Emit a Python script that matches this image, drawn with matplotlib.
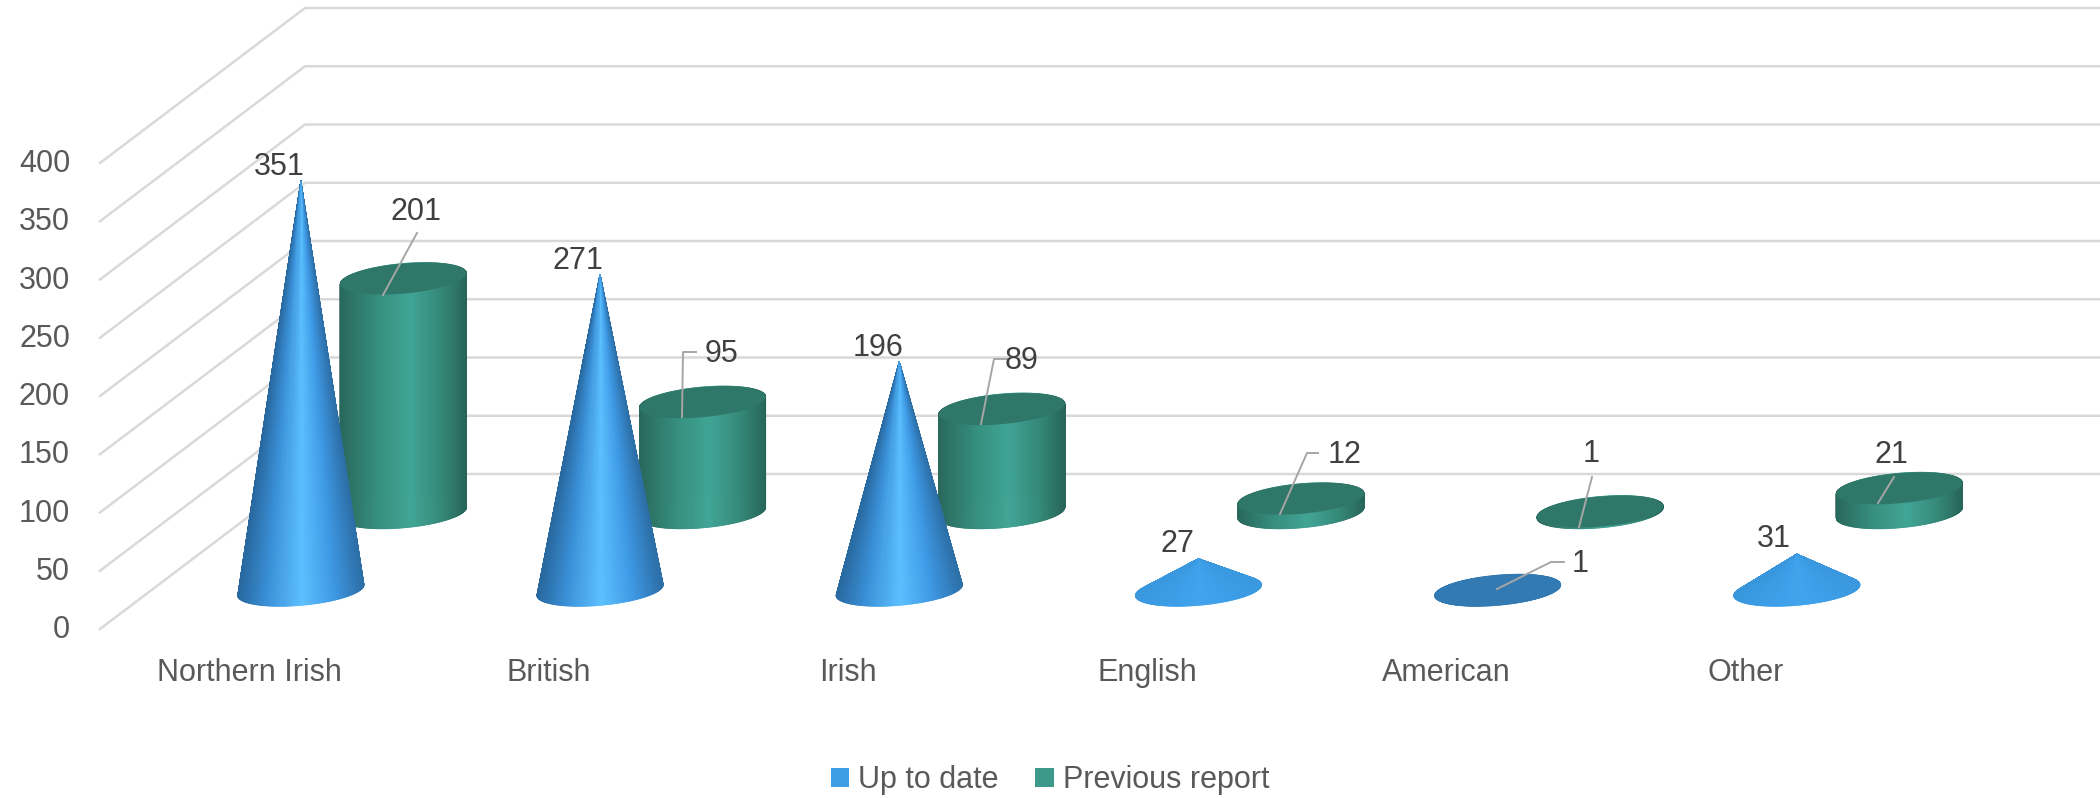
import numpy as np
import matplotlib
matplotlib.use("Agg")
import matplotlib.pyplot as plt
from matplotlib.collections import PolyCollection
from matplotlib.colors import LinearSegmentedColormap, to_rgb
from matplotlib.patches import Patch, Polygon
from matplotlib.transforms import Affine2D

plt.rcParams["font.family"] = ["Liberation Sans", "DejaVu Sans"]

# data
categories = ["Northern Irish", "British", "Irish", "English", "American", "Other"]
up_to_date = [351, 271, 196, 27, 1, 31]
previous_report = [201, 95, 89, 12, 1, 21]
y_ticks = [0, 50, 100, 150, 200, 250, 300, 350, 400]

# layout, in reference pixels
W, H = 2100, 798
FRONT_X, FRONT_Y = 100, 629
DEPTH_X, DEPTH_Y = 205, 155
CAT_W = 299.2
PX_PER_UNIT = 1.165
DEPTH_CONE = 0.25
DEPTH_CYL = 0.75
RADIUS_CAT = 59.4 / CAT_W
RADIUS_DEPTH = 16 / DEPTH_Y
FONT = 22

# label and leader positions, in reference pixels
cone_labels = [(279, 167), (578, 261), (878, 348), (1177, 544), (1580, 564), (1774, 539)]
cyl_labels = [(416, 212), (722, 354), (1022, 361), (1345, 455), (1591, 454), (1891, 455)]
cone_leaders = [None, None, None, None, [(1497, 589), (1551, 562), (1564, 562)], None]
cyl_leaders = [
    [(383, 295), (417, 233)],
    [(682, 417), (683, 352), (696, 352)],
    [(981, 424), (994, 359), (1007, 359)],
    [(1280, 514), (1307, 453), (1318, 453)],
    [(1579, 527), (1592, 477)],
    [(1878, 503), (1894, 477)],
]

BLUE_SIDE = LinearSegmentedColormap.from_list(
    "blue", [(0, "#28689f"), (0.22, "#3a8fd6"), (0.5, "#5cc0ff"), (0.75, "#3f9ae6"), (1, "#2c6ea6")])
GREEN_SIDE = LinearSegmentedColormap.from_list(
    "green", [(0, "#29685c"), (0.3, "#37907f"), (0.55, "#40a596"), (0.8, "#358877"), (1, "#27645a")])
GREEN_TOP = "#2e7769"
BLUE_FLAT = "#3c9fe8"
BLUE_DARK = "#3278b0"


def shift(x, y, depth):
    # category/value position at some depth -> plain data coordinates
    return x + depth * DEPTH_X / CAT_W, y + depth * DEPTH_Y / PX_PER_UNIT


def ellipse(cx, value, depth, t):
    # circle lying on the floor, seen in the oblique projection of the chart
    dep = depth + RADIUS_DEPTH * np.sin(t)
    return shift(cx + RADIUS_CAT * np.cos(t), value, dep)


def blend(a, b, frac):
    a, b = np.array(to_rgb(a)), np.array(to_rgb(b))
    return a * (1 - frac) + b * frac


def draw_cylinder(ax, cx, value, depth):
    t = np.linspace(0, 2 * np.pi, 361)
    xb, yb = ellipse(cx, 0, depth, t)
    xt, yt = ellipse(cx, value, depth, t)
    xmin, xmax = xb.min(), xb.max()
    polys, cols = [], []
    for i in np.argsort(-np.sin(t[:-1])):
        polys.append([(xb[i], yb[i]), (xb[i + 1], yb[i + 1]), (xt[i + 1], yt[i + 1]), (xt[i], yt[i])])
        cols.append(GREEN_SIDE((xb[i] - xmin) / (xmax - xmin)))
    ax.add_collection(PolyCollection(polys, facecolors=cols, edgecolors=cols, linewidths=0.6, zorder=3))
    ax.add_patch(Polygon(np.column_stack([xt, yt]), facecolor=GREEN_TOP, edgecolor="none", zorder=3.1))


def draw_cone(ax, cx, value, depth):
    t = np.linspace(0, 2 * np.pi, 361)
    xb, yb = ellipse(cx, 0, depth, t)
    ax_, ay_ = shift(cx, value, depth)
    xmin, xmax = xb.min(), xb.max()
    # short cones lose the side shading, the flattest one is just dark
    contrast = min(value / 200, 1)
    flat = blend(BLUE_DARK, BLUE_FLAT, min(value / 20, 1))
    polys, cols = [], []
    for i in np.argsort(-np.sin(t[:-1])):
        polys.append([(xb[i], yb[i]), (xb[i + 1], yb[i + 1]), (ax_, ay_)])
        side = np.array(BLUE_SIDE((xb[i] - xmin) / (xmax - xmin))[:3])
        cols.append(tuple(flat * (1 - contrast) + side * contrast))
    ax.add_collection(PolyCollection(polys, facecolors=cols, edgecolors=cols, linewidths=0.6, zorder=4))


fig = plt.figure(figsize=(W / 100, H / 100), dpi=100)
ax = fig.add_axes([0, 0, 1, 1])
ax.set_xlim(-FRONT_X / CAT_W, (W - FRONT_X) / CAT_W)
ax.set_ylim((FRONT_Y - H) / PX_PER_UNIT, FRONT_Y / PX_PER_UNIT)
ax.axis("off")

# reference pixels, top-left origin, for labels and leaders
px = Affine2D().scale(1, -1).translate(0, H)

# walls
for v in y_ticks:
    x_back, y_back = shift(0, v, 1)
    x_end, _ = shift(len(categories), v, 1)
    ax.plot([0, x_back, x_end], [v, y_back, y_back], color="#d9d9d9", lw=1.8, zorder=1,
            solid_joinstyle="miter")
    ax.text(-30 / CAT_W, v - 1, str(v), ha="right", va="center", fontsize=FONT, color="#595959")

for i, name in enumerate(categories):
    ax.text(i + 0.5, -38, name, ha="center", va="center", fontsize=FONT, color="#595959")
    draw_cylinder(ax, i + 0.5, previous_report[i], DEPTH_CYL)
    draw_cone(ax, i + 0.5, up_to_date[i], DEPTH_CONE)

# value labels and leaders
for values, labels, leaders in [(up_to_date, cone_labels, cone_leaders),
                                (previous_report, cyl_labels, cyl_leaders)]:
    for val, pos, lead in zip(values, labels, leaders):
        ax.text(pos[0], pos[1], str(val), transform=px, ha="center", va="center",
                fontsize=FONT, color="#404040", zorder=6)
        if lead:
            xs, ys = zip(*lead)
            ax.plot(xs, ys, transform=px, color="#a6a6a6", lw=1.4, zorder=5)

handles = [Patch(facecolor="#3f9de6", label="Up to date"), Patch(facecolor="#3d9a8b", label="Previous report")]
ax.legend(handles=handles, loc="center", bbox_to_anchor=(1050 / W, 1 - 780 / H), ncol=2, frameon=False,
          fontsize=FONT, labelcolor="#595959", handlelength=0.6, handleheight=0.6,
          handletextpad=0.3, columnspacing=1.2)

fig.savefig("out.png", dpi=100)
